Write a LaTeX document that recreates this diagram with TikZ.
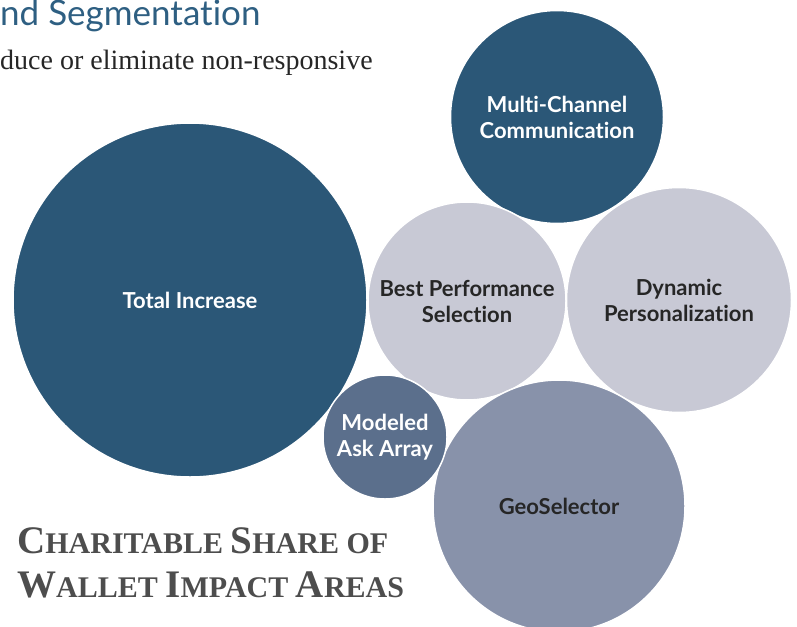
\documentclass[tikz,border=0pt]{standalone}
\usepackage{fontspec}
\setmainfont{Liberation Serif}
\newfontfamily\bubblefont[Ligatures=NoCommon]{Lato}
\definecolor{navy}{HTML}{2B5777}
\definecolor{mist}{HTML}{C8C9D5}
\definecolor{slate}{HTML}{5B6F8C}
\definecolor{steel}{HTML}{8892AA}
\definecolor{headblue}{HTML}{2E5F82}
\definecolor{titlegray}{HTML}{4D4D4D}
\newcommand\capword[2]{{\fontsize{39}{40}\selectfont #1}{\fontsize{30}{30}\selectfont #2}}
\begin{document}
\begin{tikzpicture}[
    x=1pt, y=-1pt,
    every node/.style={align=center},
    bubble/.style={circle, draw=white, line width=1.5pt, inner sep=0pt,
        font=\bubblefont\bfseries\fontsize{22}{26}\selectfont},
    dark bubble/.style={bubble, fill=navy, text=white},
    light bubble/.style={bubble, fill=mist, text=black!85},
    ]
\useasboundingbox (0,0) rectangle (797,626);
% header text, cut at the left edge
\node[anchor=base west, inner sep=0pt, text=headblue,
    font=\bubblefont\fontsize{35}{38}\selectfont] (heading) at (0,26) {nd Segmentation};
\node[anchor=base west, inner sep=0pt, text=black!85,
    font=\fontsize{28}{30}\selectfont] (intro) at (0,70) {duce or eliminate non-responsive};
% bubbles
\node[dark bubble, minimum size=354pt] (total) at (190,300) {Total Increase};
\node[dark bubble, minimum size=213pt] (multi) at (557,117) {Multi-Channel\\Communication};
\node[light bubble, minimum size=198pt] (best) at (467,301) {Best Performance\\Selection};
\node[light bubble, minimum size=225pt] (dynamic) at (679,300) {Dynamic\\Personalization};
\node[bubble, fill=steel, text=black!85, minimum size=252pt] (geo) at (559,506) {GeoSelector};
\node[bubble, fill=slate, text=white, minimum size=124pt] (ask) at (385,437) {Modeled\\Ask Array};
% title
\node[anchor=base west, inner sep=0pt, text=titlegray,
    font=\bfseries\fontsize{30}{30}\selectfont] (title1) at (17,553)
    {\capword{C}{HARITABLE} \capword{S}{HARE OF}};
\node[anchor=base west, inner sep=0pt, text=titlegray,
    font=\bfseries\fontsize{30}{30}\selectfont] (title2) at (17,597)
    {\capword{W}{ALLET} \capword{I}{MPACT} \capword{A}{REAS}};
\end{tikzpicture}
\end{document}
